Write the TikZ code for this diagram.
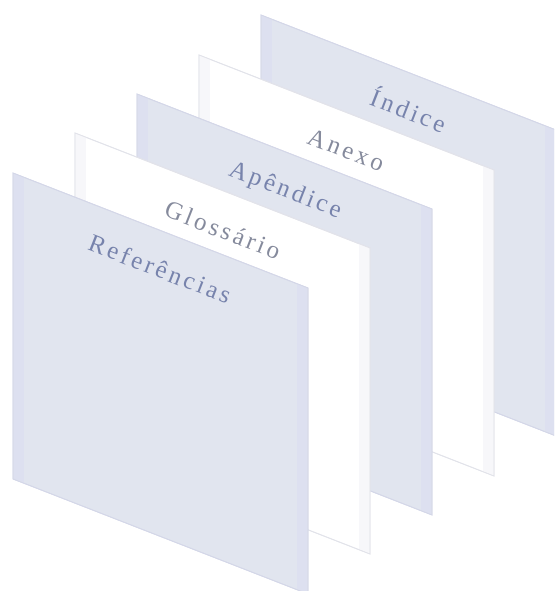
\documentclass[tikz,border=0pt]{standalone}
\usepackage{fontspec}
\setmainfont{Liberation Serif}
\definecolor{lav}{HTML}{E1E5EF}
\definecolor{lavstrip}{HTML}{DDE0F0}
\definecolor{lavedge}{HTML}{D4D7E8}
\definecolor{wstrip}{HTML}{F7F7FA}
\definecolor{wedge}{HTML}{E2E3EA}
\definecolor{bluetxt}{HTML}{7783AC}
\definecolor{graytxt}{HTML}{858A9C}
\begin{document}
\begin{tikzpicture}[x=1pt,y=-1pt,
  lavpanel/.style={fill=lav,draw=lavedge,line width=0.8pt},
  whitepanel/.style={fill=white,draw=wedge,line width=0.8pt},
  lavband/.style={fill=lavstrip,draw=none},
  whiteband/.style={fill=wstrip,draw=none},
  label/.style={font=\fontsize{25}{30}\selectfont\addfontfeature{LetterSpace=13},rotate=-21.3,inner sep=0pt}]
\useasboundingbox (0,0) rectangle (554,591);
\clip (0,0) rectangle (554,591);
\newcommand{\drawpanel}[4]{%
  \path[#3] (#1,#2) -- ++(295,115) -- ++(0,306) -- ++(-295,-115) -- cycle;
  \path[#4] (#1,#2) ++(0.8,0.5) -- ++(10,3.9) -- ++(0,305) -- ++(-10,-3.9) -- cycle;
  \path[#4] (#1,#2) ++(284,110.9) -- ++(10.2,4) -- ++(0,305) -- ++(-10.2,-4) -- cycle;
  \path[#3,fill=none] (#1,#2) -- ++(295,115) -- ++(0,306) -- ++(-295,-115) -- cycle;
}
\drawpanel{261}{15}{lavpanel}{lavband}
\drawpanel{199}{55}{whitepanel}{whiteband}
\drawpanel{137}{94}{lavpanel}{lavband}
\drawpanel{75}{133}{whitepanel}{whiteband}
\drawpanel{13}{173}{lavpanel}{lavband}
\node[label,text=bluetxt] (indice) at (409,109) {Índice};
\node[label,text=graytxt] (anexo) at (346,150) {Anexo};
\node[label,text=bluetxt] (apendice) at (285,191) {Apêndice};
\node[label,text=graytxt] (glossario) at (223,230) {Glossário};
\node[label,text=bluetxt] (referencias) at (160,269) {Referências};
\end{tikzpicture}
\end{document}
